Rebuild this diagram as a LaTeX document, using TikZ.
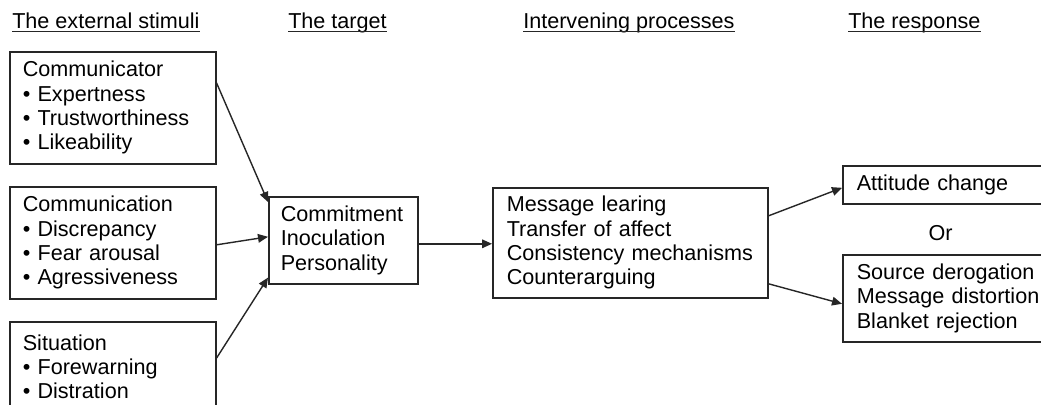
\documentclass[tikz,border=0pt]{standalone}
\usepackage{fontspec}
\setmainfont{Liberation Sans}
\usetikzlibrary{arrows.meta}
\newlength\pxu
\setlength\pxu{0.75pt}
\begin{document}
\begin{tikzpicture}[x=0.75pt,y=-0.75pt,
  every node/.style={font=\fontsize{16.2}{18.2}\selectfont, text=black},
  box/.style={draw=black!85, line width=1.2pt, rectangle, anchor=north west,
    align=left, inner ysep=0pt, inner xsep=13\pxu},
  head/.style={anchor=base west, inner sep=0pt},
  arr/.style={draw=black!85, line width=1.05pt, -{Triangle[length=7.5pt,width=6.5pt]}},
  uline/.style={draw=black!85, line width=0.9pt}
]
\useasboundingbox (0,0) rectangle (1041,404);
\clip (0,0) rectangle (1041,404);
\fill[white] (0,0) rectangle (1041,404);

% column headings
\node[head] (h1) at (12,28) {The external stimuli};
\node[head] (h2) at (288,28) {The target};
\node[head] (h3) at (523,28) {Intervening processes};
\node[head] (h4) at (848,28) {The response};
\foreach \h in {h1,h2,h3,h4}
  \draw[uline] ([yshift=-3.5\pxu]\h.base west) -- ([yshift=-3.5\pxu]\h.base east);

% external stimuli
\node[box, minimum width=206\pxu, minimum height=112\pxu, text width=180\pxu] (c1) at (9,51)
  {Communicator\\• Expertness\\• Trustworthiness\\• Likeability};
\node[box, minimum width=206\pxu, minimum height=112\pxu, text width=180\pxu] (c2) at (9,186)
  {Communication\\• Discrepancy\\• Fear arousal\\• Agressiveness};
\node[box, minimum width=206\pxu, minimum height=90\pxu, text width=180\pxu] (c3) at (9,321)
  {Situation\\• Forewarning\\• Distration};

% target
\node[box, inner xsep=12\pxu, minimum width=149\pxu, minimum height=87\pxu, text width=125\pxu] (t) at (268,196)
  {Commitment\\Inoculation\\Personality};

% intervening processes
\node[box, inner xsep=14\pxu, minimum width=275\pxu, minimum height=110\pxu, text width=247\pxu] (p) at (492,187)
  {Message learing\\Transfer of affect\\\mbox{Consistency mechanisms}\\Counterarguing};

% responses
\node[box, inner xsep=14\pxu, minimum width=230\pxu, minimum height=38\pxu, text width=202\pxu] (a) at (842,165)
  {Attitude change};
\node[anchor=base, inner sep=0pt] (or) at (940.5,240.5) {Or};
\node[box, inner xsep=14\pxu, minimum width=230\pxu, minimum height=87\pxu, text width=202\pxu] (r) at (842,254)
  {Source derogation\\Message distortion\\Blanket rejection};

% connectors
\draw[arr] ([yshift=-32\pxu]c1.north east) -- ([yshift=-6\pxu]t.north west);
\draw[arr] ([yshift=-2\pxu]c2.east) -- ([yshift=3.5\pxu]t.west);
\draw[arr] ([yshift=-37\pxu]c3.north east) -- ([yshift=7\pxu]t.south west);
\draw[arr] ([yshift=-3.5\pxu]t.east) -- ([yshift=-1\pxu]p.west);
\draw[arr] ([yshift=27\pxu]p.east) -- ([yshift=-3\pxu]a.west);
\draw[arr] ([yshift=-41\pxu]p.east) -- ([yshift=-5.5\pxu]r.west);
\end{tikzpicture}
\end{document}
